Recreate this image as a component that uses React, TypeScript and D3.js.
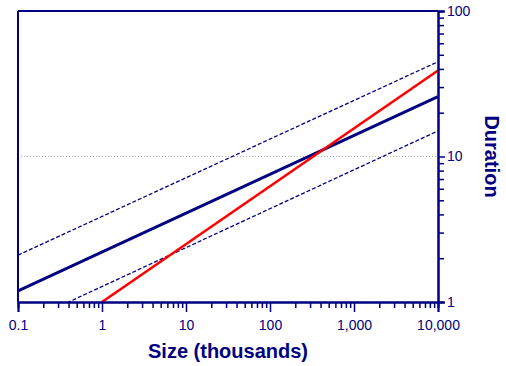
import React, { useEffect } from "react";
import * as d3 from "d3";

// fitted line endpoints (size in thousands -> duration)
const fitSizes = [0.1, 10000];
const fitDuration = [1.19, 25.8];
const upperDuration = [2.1, 44.8];
const lowerDuration = [0.69, 15.0];
const refSizes = [1, 10000];
const refDuration = [1, 39];

const xTicks = [0.1, 1, 10, 100, 1000, 10000];
const xTickLabels = ["0.1", "1", "10", "100", "1,000", "10,000"];
const yTicks = [1, 10, 100];
const yTickLabels = ["1", "10", "100"];
const gridValues = [10];

export default function App() {
  useEffect(() => {
    draw();
  }, []);

  let draw = () => {
    d3.select("#chart").select("svg").remove();

    const navy = "#000080";
    const font = "Liberation Sans, Arial, sans-serif";
    let margin = { left: 18, top: 11, right: 68, bottom: 64 };
    let width = 506;
    let height = 366;
    let innerW = width - margin.left - margin.right;
    let innerH = height - margin.top - margin.bottom;

    let svg = d3
      .select("#chart")
      .append("svg")
      .attr("width", width)
      .attr("height", height)
      .style("position", "absolute")
      .style("left", 0)
      .style("top", 0)
      .style("font-family", font);

    let g = svg
      .append("g")
      .attr("transform", `translate(${margin.left}, ${margin.top})`);

    let xScale = d3.scaleLog().domain([0.1, 10000]).range([0, innerW]);
    let yScale = d3.scaleLog().domain([1, 100]).range([innerH, 0]);

    g.append("clipPath")
      .attr("id", "plotclip")
      .append("rect")
      .attr("width", innerW)
      .attr("height", innerH);

    // gray dotted reference line
    g.selectAll(".grid")
      .data(gridValues)
      .enter()
      .append("line")
      .attr("x1", 0)
      .attr("x2", innerW)
      .attr("y1", (d) => yScale(d))
      .attr("y2", (d) => yScale(d))
      .attr("stroke", "#b0b0b0")
      .attr("stroke-width", 1)
      .attr("stroke-dasharray", "1,2");

    let line = d3
      .line<[number, number]>()
      .x((d) => xScale(d[0]))
      .y((d) => yScale(d[1]));

    let plot = g.append("g").attr("clip-path", "url(#plotclip)");

    let series = [
      { sizes: fitSizes, values: upperDuration, color: navy, w: 1.3, dash: "4,2" },
      { sizes: fitSizes, values: lowerDuration, color: navy, w: 1.3, dash: "4,2" },
      { sizes: fitSizes, values: fitDuration, color: navy, w: 3, dash: null },
      { sizes: refSizes, values: refDuration, color: "#ff0000", w: 2.5, dash: null },
    ];

    series.forEach((s) => {
      plot
        .append("path")
        .datum(s.sizes.map((x, i) => [x, s.values[i]] as [number, number]))
        .attr("d", line)
        .attr("fill", "none")
        .attr("stroke", s.color)
        .attr("stroke-width", s.w)
        .attr("stroke-dasharray", s.dash);
    });

    // frame: left and top
    g.append("line")
      .attr("x1", 0).attr("x2", 0).attr("y1", 0).attr("y2", innerH)
      .attr("stroke", navy).attr("stroke-width", 2);
    g.append("line")
      .attr("x1", 0).attr("x2", innerW).attr("y1", 0).attr("y2", 0)
      .attr("stroke", navy).attr("stroke-width", 2);

    // x axis
    let xMinor: number[] = [];
    for (let dec = 0.1; dec < 10000; dec *= 10) {
      for (let k = 2; k <= 9; k++) xMinor.push(dec * k);
    }
    let xAxis = g.append("g").attr("transform", `translate(0, ${innerH})`);
    xAxis
      .call(
        d3.axisBottom(xScale).tickValues(xMinor).tickSize(6).tickFormat(() => "")
      );
    xAxis
      .append("g")
      .call(
        d3
          .axisBottom(xScale)
          .tickValues(xTicks)
          .tickSize(10)
          .tickFormat((d, i) => xTickLabels[i])
      );
    xAxis.selectAll("path.domain").attr("stroke", navy).attr("stroke-width", 2);
    xAxis.selectAll("line").attr("stroke", navy).attr("stroke-width", 1.5);
    xAxis
      .selectAll("text")
      .attr("fill", navy)
      .attr("font-size", 14)
      .attr("font-family", font)
      .attr("y", 18)
      .attr("dy", "0.71em");

    // y axis on the right
    let yMinor: number[] = [];
    for (let dec = 1; dec < 100; dec *= 10) {
      for (let k = 2; k <= 9; k++) yMinor.push(dec * k);
    }
    let yAxis = g.append("g").attr("transform", `translate(${innerW}, 0)`);
    yAxis.call(
      d3.axisRight(yScale).tickValues(yMinor).tickSize(6).tickFormat(() => "")
    );
    yAxis
      .append("g")
      .call(
        d3
          .axisRight(yScale)
          .tickValues(yTicks)
          .tickSize(7)
          .tickFormat((d, i) => yTickLabels[i])
      );
    yAxis.selectAll("path.domain").attr("stroke", navy).attr("stroke-width", 2);
    yAxis.selectAll("line").attr("stroke", navy).attr("stroke-width", 1.5);
    yAxis
      .selectAll("text")
      .attr("fill", navy)
      .attr("font-size", 14)
      .attr("font-family", font)
      .attr("x", 9);

    // axis titles
    svg
      .append("text")
      .attr("x", margin.left + innerW / 2)
      .attr("y", 358)
      .attr("text-anchor", "middle")
      .attr("font-size", 20)
      .attr("font-weight", "bold")
      .attr("fill", navy)
      .text("Size (thousands)");

    svg
      .append("text")
      .attr("transform", `translate(485, ${margin.top + innerH / 2}) rotate(90)`)
      .attr("text-anchor", "middle")
      .attr("font-size", 20)
      .attr("font-weight", "bold")
      .attr("fill", navy)
      .text("Duration");
  };

  return <div id="chart"></div>;
}
